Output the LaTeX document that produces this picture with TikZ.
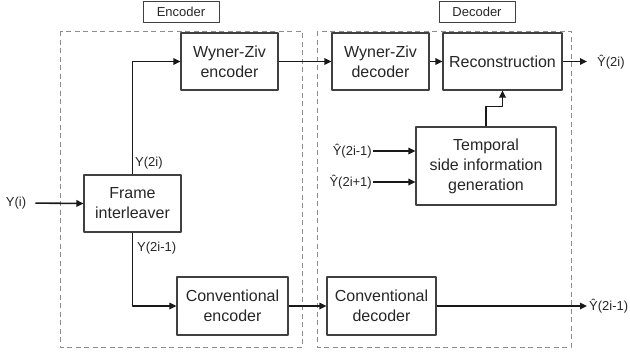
\documentclass[tikz,border=0pt]{standalone}
\usepackage{fontspec}
\setmainfont{Liberation Sans}
\usetikzlibrary{arrows.meta}
\begin{document}
\begin{tikzpicture}[x=1pt, y=-1pt, line join=round, >={Triangle[length=7pt,width=6.5pt]},
		blk/.style={draw=black!75, line width=1.1pt, align=center, inner sep=0pt, text=black!85, font=\fontsize{16}{20}\selectfont},
		tag/.style={draw=black!75, line width=0.9pt, minimum width=76pt, minimum height=21pt, inner sep=0pt, text=black!85, font=\fontsize{13}{15}\selectfont},
		lbl/.style={inner sep=1pt, text=black!85, font=\fontsize{13}{15}\selectfont},
		flow/.style={->, line width=1.6pt, black!90}]
	\useasboundingbox (0,0) rectangle (630,354);
	% dashed frames
	\draw[black!45, line width=0.8pt, dash pattern=on 5pt off 3.5pt] (60,31) rectangle (302,347);
	\draw[black!45, line width=0.8pt, dash pattern=on 5pt off 3.5pt] (317,31) rectangle (571,347);
	\node[tag] (enctag) at (181,11.5) {Encoder};
	\node[tag] (dectag) at (477,11.5) {Decoder};
	% blocks
	\node[blk, minimum width=97pt, minimum height=57pt] (wze) at (229.5,61.5) {Wyner-Ziv\\encoder};
	\node[blk, minimum width=97pt, minimum height=57pt] (fi) at (132.5,203.5) {Frame\\interleaver};
	\node[blk, minimum width=111pt, minimum height=58pt] (ce) at (232.5,306) {Conventional\\encoder};
	\node[blk, minimum width=97pt, minimum height=57pt] (wzd) at (380.5,61.5) {Wyner-Ziv\\decoder};
	\node[blk, minimum width=119pt, minimum height=57pt] (rec) at (502.5,61.5) {Reconstruction};
	\node[blk, minimum width=140pt, minimum height=78pt] (tsi) at (486,166) {Temporal\\side information\\generation};
	\node[blk, minimum width=109pt, minimum height=58pt] (cd) at (381.5,306) {Conventional\\decoder};
	% labels
	\node[lbl] (yi) at (16,203) {Y(i)};
	\node[lbl, anchor=west] (y2i) at (134,163) {Y(2i)};
	\node[lbl, anchor=west] (y2im) at (136,248) {Y(2i-1)};
	\node[lbl, anchor=east] (inp) at (373,151) {Ŷ(2i-1)};
	\node[lbl, anchor=east] (inn) at (373,182) {Ŷ(2i+1)};
	\node[lbl, anchor=west] (outa) at (596,62) {Ŷ(2i)};
	\node[lbl, anchor=west] (outb) at (588,306) {Ŷ(2i-1)};
	\coordinate (enda) at (587,61.5);
	\coordinate (endb) at (587,306);
	% connectors
	\draw[flow, shorten <=8pt] (yi.east) -- (fi.west);
	\draw[flow] (fi.north) |- (wze.west);
	\draw[flow] (fi.south) |- (ce.west);
	\draw[flow] (wze.east) -- (wzd.west);
	\draw[flow] (wzd.east) -- (rec.west);
	\draw[flow] (rec.east) -- (enda);
	\draw[flow] (ce.east) -- (cd.west);
	\draw[flow] (cd.east) -- (endb);
	\draw[flow] (tsi.north) -- ++(0,-20) -| (rec.south);
	\draw[flow] (inp.east) -- (inp.east -| tsi.west);
	\draw[flow] (inn.east) -- (inn.east -| tsi.west);
\end{tikzpicture}
\end{document}
